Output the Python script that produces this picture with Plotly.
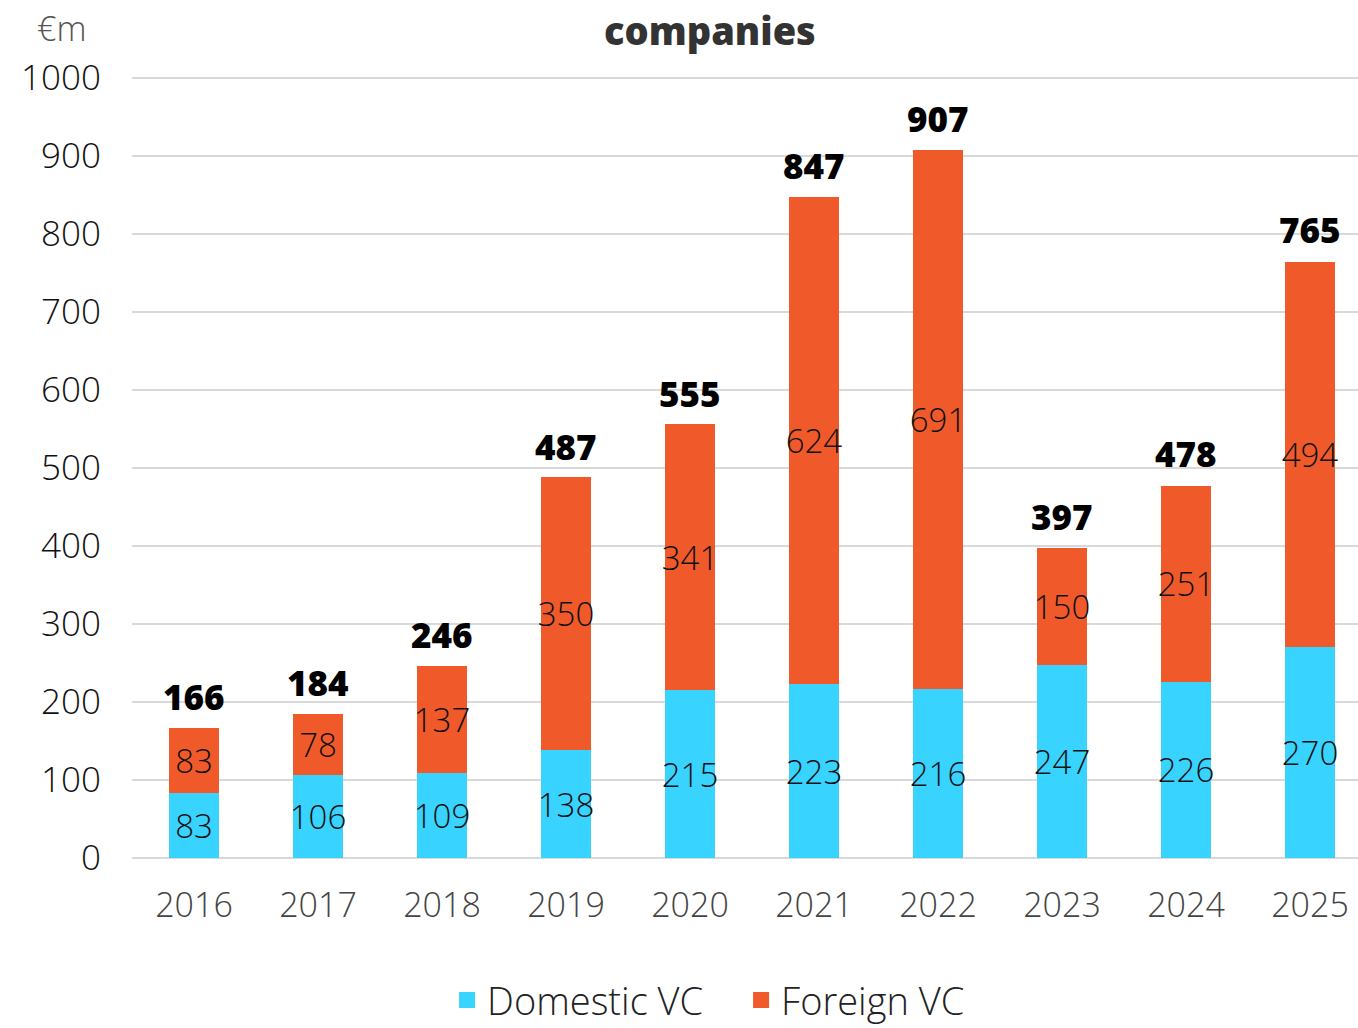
import plotly.graph_objects as go

years = ["2016", "2017", "2018", "2019", "2020", "2021", "2022", "2023", "2024", "2025"]
domestic_vc = [83, 106, 109, 138, 215, 223, 216, 247, 226, 270]
foreign_vc = [83, 78, 137, 350, 341, 624, 691, 150, 251, 494]
totals = [166, 184, 246, 487, 555, 847, 907, 397, 478, 765]

y_ticks = list(range(0, 1001, 100))

CYAN = "#38D3FF"
ORANGE = "#F05A2A"
FONT = "'Open Sans', Lato, sans-serif"

fig = go.Figure()

fig.add_trace(go.Bar(
    name="Domestic VC", x=years, y=domestic_vc, marker_color=CYAN,
    marker_line_width=0, showlegend=False,
    text=[str(v) for v in domestic_vc], textposition="inside",
    insidetextanchor="middle", textangle=0,
    textfont=dict(size=33, color="#111111", family=FONT, weight=300),
))
fig.add_trace(go.Bar(
    name="Foreign VC", x=years, y=foreign_vc, marker_color=ORANGE,
    marker_line_width=0, showlegend=False,
    text=[str(v) for v in foreign_vc], textposition="inside",
    insidetextanchor="middle", textangle=0,
    textfont=dict(size=33, color="#111111", family=FONT, weight=300),
))

# Legend keys with larger square swatches
for name, color in [("Domestic VC", CYAN), ("Foreign VC", ORANGE)]:
    fig.add_trace(go.Scatter(
        x=[None], y=[None], mode="markers", name=name,
        marker=dict(symbol="square", size=20, color=color),
    ))

# Bold totals above each stacked bar (category index positions)
total_labels = [
    dict(x=i, y=tot, text=str(tot), xref="x", yref="y",
         xanchor="center", yanchor="bottom", yshift=6, showarrow=False,
         font=dict(size=35, color="#000000", family=FONT, weight=800))
    for i, tot in enumerate(totals)
]

fig.update_layout(
    barmode="stack",
    bargap=0.6,
    width=1358, height=1028,
    margin=dict(l=132, r=0, t=70, b=170),
    plot_bgcolor="white", paper_bgcolor="white",
    font=dict(family=FONT, color="#222222"),
    uniformtext=dict(minsize=33, mode="show"),
    showlegend=True,
    legend=dict(
        orientation="h", x=0.257, xanchor="left",
        yref="container", y=0.027, yanchor="middle",
        font=dict(size=38, color="#222222", family=FONT, weight=300),
        itemsizing="trace", traceorder="normal", itemwidth=30,
        entrywidth=249, entrywidthmode="pixels",
    ),
    annotations=total_labels + [
        dict(text="companies", xref="paper", yref="paper",
             x=0.4715, y=1.051, xanchor="center", yanchor="middle",
             showarrow=False,
             font=dict(size=38, color="#333333", family=FONT, weight=800)),
        dict(text="€m", xref="paper", yref="paper",
             x=-0.0571, y=1.0536, xanchor="center", yanchor="middle",
             showarrow=False,
             font=dict(size=34, color="#555555", family=FONT, weight=300)),
    ],
)

fig.update_xaxes(
    type="category", range=[-0.5, 9.387], showgrid=False, showline=False,
    zeroline=False, ticks="", ticklabelstandoff=24, automargin=False,
    tickfont=dict(size=34, color="#444444", family=FONT, weight=300),
)
fig.update_yaxes(
    range=[0, 1010], tickvals=y_ticks, showgrid=True, gridcolor="#D9D9D9",
    gridwidth=2, zeroline=True, zerolinecolor="#D9D9D9", zerolinewidth=2,
    showline=False, ticks="", ticklabelstandoff=30, automargin=False,
    tickfont=dict(size=35, color="#111111", family=FONT, weight=300),
)

fig.write_html("out.html")
